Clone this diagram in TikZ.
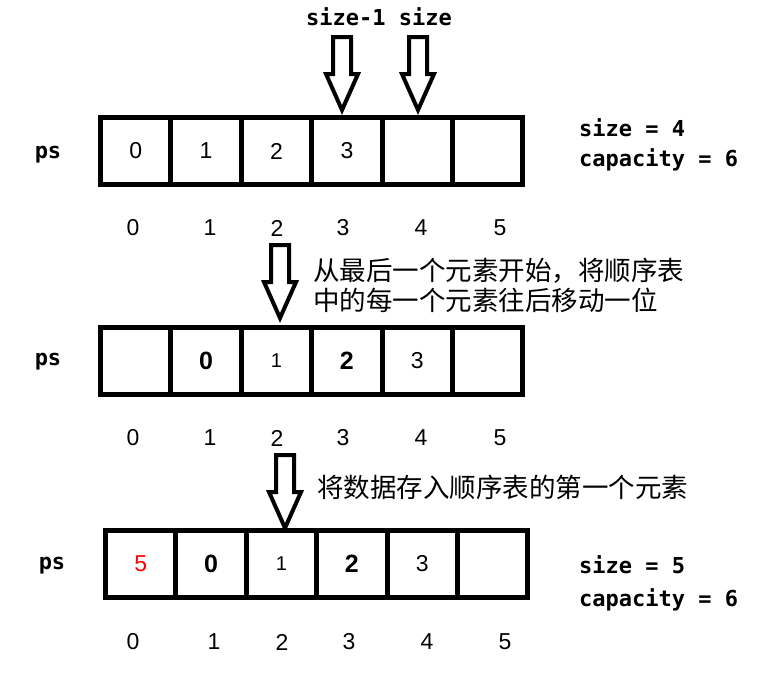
\documentclass[tikz,border=0pt]{standalone}
\usepackage{fontspec}
\setmainfont{Liberation Sans}
\newfontfamily\cjkfont{Noto Sans CJK SC}
\newfontfamily\codefont{DejaVu Sans Mono}
\usetikzlibrary{positioning}

\newcommand\bigdigit[1]{{\fontsize{25}{25}\selectfont\bfseries #1}}
\newcommand\smalldigit[1]{{\fontsize{20}{20}\selectfont #1}}

\tikzset{
    cell/.style={draw, line width=5pt, minimum width=70.4pt, minimum height=67pt,
        inner sep=0pt, font=\fontsize{23}{23}\selectfont},
    idx/.style={font=\fontsize{23}{23}\selectfont},
    code/.style={font=\codefont\bfseries\fontsize{22}{22}\selectfont, inner sep=0pt},
    note/.style={font=\cjkfont\fontsize{26.5}{30}\selectfont, align=left, anchor=west, inner sep=0pt},
    hollowdown/.pic={
        \draw[line width=4pt, fill=white] (-9,-73) -- (9,-73) -- (9,-36) -- (16,-36)
            -- (0,0) -- (-16,-36) -- (-9,-36) -- cycle;
    }
}

\begin{document}
\begin{tikzpicture}[x=1pt, y=-1pt]
    \useasboundingbox (0,0) rectangle (765,678);

    % Row 1: before insert
    \foreach \v [count=\i from 0] in {0,1,2,3,{},{}}
        \node[cell] (a\i) at ({135.7+70.4*\i},151) {\v};
    \foreach \x [count=\i from 0] in {133,210,277,343,421,500}
        \node[idx] (ia\i) at (\x,228) {\i};
    \node[code] (psa) at (48,155) {ps};
    \node[code, anchor=west] (sza) at (579,128) {size = 4};
    \node[code, anchor=west] (cpa) at (579,160) {capacity = 6};

    % pointers size-1 / size
    \node[code] (ptr) at (379,17) {size-1 size};
    \pic at (342,110) {hollowdown};
    \pic at (418,110) {hollowdown};

    % Row 2: after shifting
    \foreach \v [count=\i from 0] in {{},\bigdigit{0},\smalldigit{1},\bigdigit{2},3,{}}
        \node[cell] (b\i) at ({135.7+70.4*\i},361) {\v};
    \foreach \x [count=\i from 0] in {133,210,277,343,421,500}
        \node[idx] (ib\i) at (\x,438) {\i};
    \node[code] (psb) at (48,362) {ps};
    \pic at (280,318) {hollowdown};
    \node[note] (stepa) at (313,285) {从最后一个元素开始，将顺序表\\中的每一个元素往后移动一位};

    % Row 3: after insert
    \foreach \v [count=\i from 0] in {{\textcolor{red}{5}},\bigdigit{0},\smalldigit{1},\bigdigit{2},3,{}}
        \node[cell] (c\i) at ({140.7+70.4*\i},563.5) {\v};
    \foreach \x [count=\i from 0] in {133,214,282,349,427,505}
        \node[idx] (ic\i) at (\x,642) {\i};
    \node[code] (psc) at (52,566) {ps};
    \pic at (285,528) {hollowdown};
    \node[note] (stepb) at (317,487) {将数据存入顺序表的第一个元素};
    \node[code, anchor=west] (szc) at (579,565) {size = 5};
    \node[code, anchor=west] (cpc) at (579,600) {capacity = 6};
\end{tikzpicture}
\end{document}
